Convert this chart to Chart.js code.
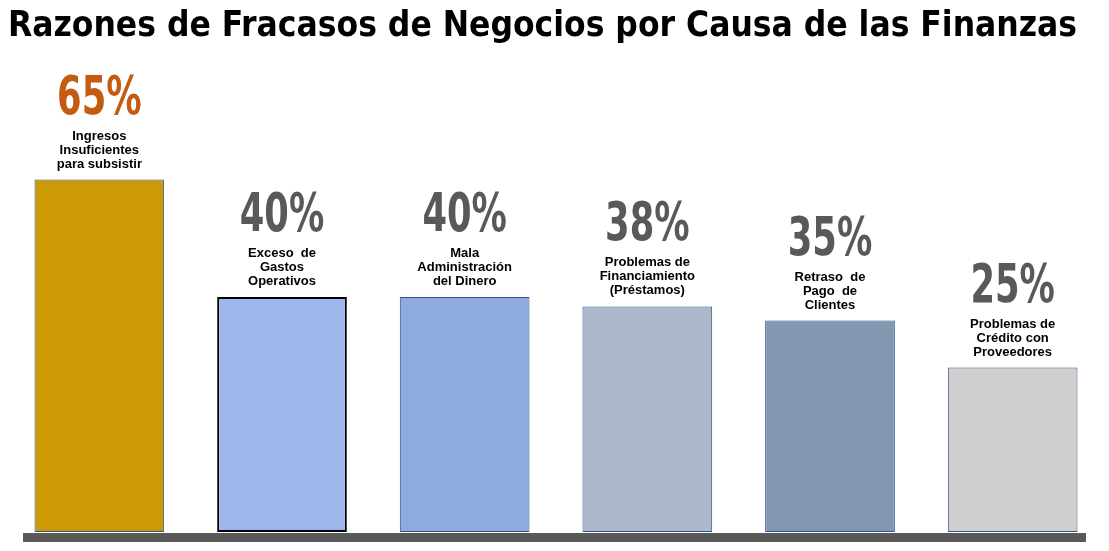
<!DOCTYPE html>
<html>
<head>
<meta charset="utf-8">
<script src="https://cdn.jsdelivr.net/npm/chart.js@4.4.1/dist/chart.umd.min.js"></script>
<style>
  html, body { margin: 0; padding: 0; background: #fff; }
  #wrap { width: 1109px; height: 551px; }
</style>
</head>
<body>
<div id="wrap"><canvas id="chart"></canvas></div>
<script>
// data
var categories = [
  ['Ingresos', 'Insuficientes', 'para subsistir'],
  ['Exceso  de', 'Gastos', 'Operativos'],
  ['Mala', 'Administración', 'del Dinero'],
  ['Problemas de', 'Financiamiento', '(Préstamos)'],
  ['Retraso  de', 'Pago  de', 'Clientes'],
  ['Problemas de', 'Crédito con', 'Proveedores']
];
var percentValues = [65, 40, 40, 38, 35, 25];
var percentLabels = ['65%', '40%', '40%', '38%', '35%', '25%'];

// styles
var barColors = ['#CC9A06', '#9DB7EC', '#8FABDD', '#ADB9CA', '#8497B0', '#D0CECE'];
var borderColors = ['#2F528F', '#000000', '#2F528F', '#2F528F', '#2F528F', '#2F528F'];
var borderWidths = [1, 2, 1, 1, 1, 1];
var labelColors = ['#C55A11', '#595959', '#595959', '#595959', '#595959', '#595959'];

var bigFont = '"DejaVu Sans Condensed", sans-serif';

// dark floor strip under the bars
var floorLine = {
  id: 'floorLine',
  beforeDatasetsDraw: function (chart) {
    var a = chart.chartArea;
    var ctx = chart.ctx;
    ctx.save();
    ctx.fillStyle = '#595959';
    ctx.fillRect(a.left + 15, a.bottom + 1, a.right - a.left - 33, 9);
    ctx.restore();
  }
};

// category text + percentage over each bar
var barLabels = {
  id: 'barLabels',
  afterDatasetsDraw: function (chart) {
    var ctx = chart.ctx;
    var meta = chart.getDatasetMeta(0);
    meta.data.forEach(function (bar, i) {
      var lines = categories[i];
      var lastBase = bar.y - 12;
      var firstBase = lastBase - (lines.length - 1) * 14;
      ctx.save();
      ctx.textAlign = 'center';
      ctx.textBaseline = 'alphabetic';
      ctx.fillStyle = '#000';
      ctx.font = 'bold 13px "Liberation Sans", Arial, sans-serif';
      lines.forEach(function (line, j) {
        ctx.fillText(line, bar.x, firstBase + j * 14);
      });
      ctx.font = 'bold 53px ' + bigFont;
      ctx.fillStyle = labelColors[i];
      ctx.translate(bar.x, firstBase - 26);
      ctx.scale(0.74, 1);
      ctx.fillText(percentLabels[i], 0, 0);
      ctx.restore();
    });
  }
};

var ctx = document.getElementById('chart').getContext('2d');
new Chart(ctx, {
  type: 'bar',
  data: {
    labels: categories,
    datasets: [{
      data: percentValues,
      backgroundColor: barColors,
      borderColor: borderColors,
      borderWidth: borderWidths,
      borderSkipped: false,
      base: -10,
      barPercentage: 0.71,
      categoryPercentage: 1
    }]
  },
  options: {
    responsive: true,
    maintainAspectRatio: false,
    animation: false,
    layout: { padding: { left: 8, right: 5, top: 0, bottom: 19 } },
    scales: {
      x: { display: false, afterFit: function (s) { s.paddingLeft = 0; } },
      y: { display: false, min: -10, max: 80 }
    },
    plugins: {
      legend: { display: false },
      tooltip: { enabled: false },
      title: {
        display: true,
        text: 'Razones de Fracasos de Negocios por Causa de las Finanzas',
        align: 'start',
        color: '#000',
        font: { family: bigFont, size: 35, weight: 'bold', lineHeight: 1.2 },
        padding: { top: 6, bottom: 61 }
      }
    }
  },
  plugins: [floorLine, barLabels]
});
</script>
</body>
</html>
